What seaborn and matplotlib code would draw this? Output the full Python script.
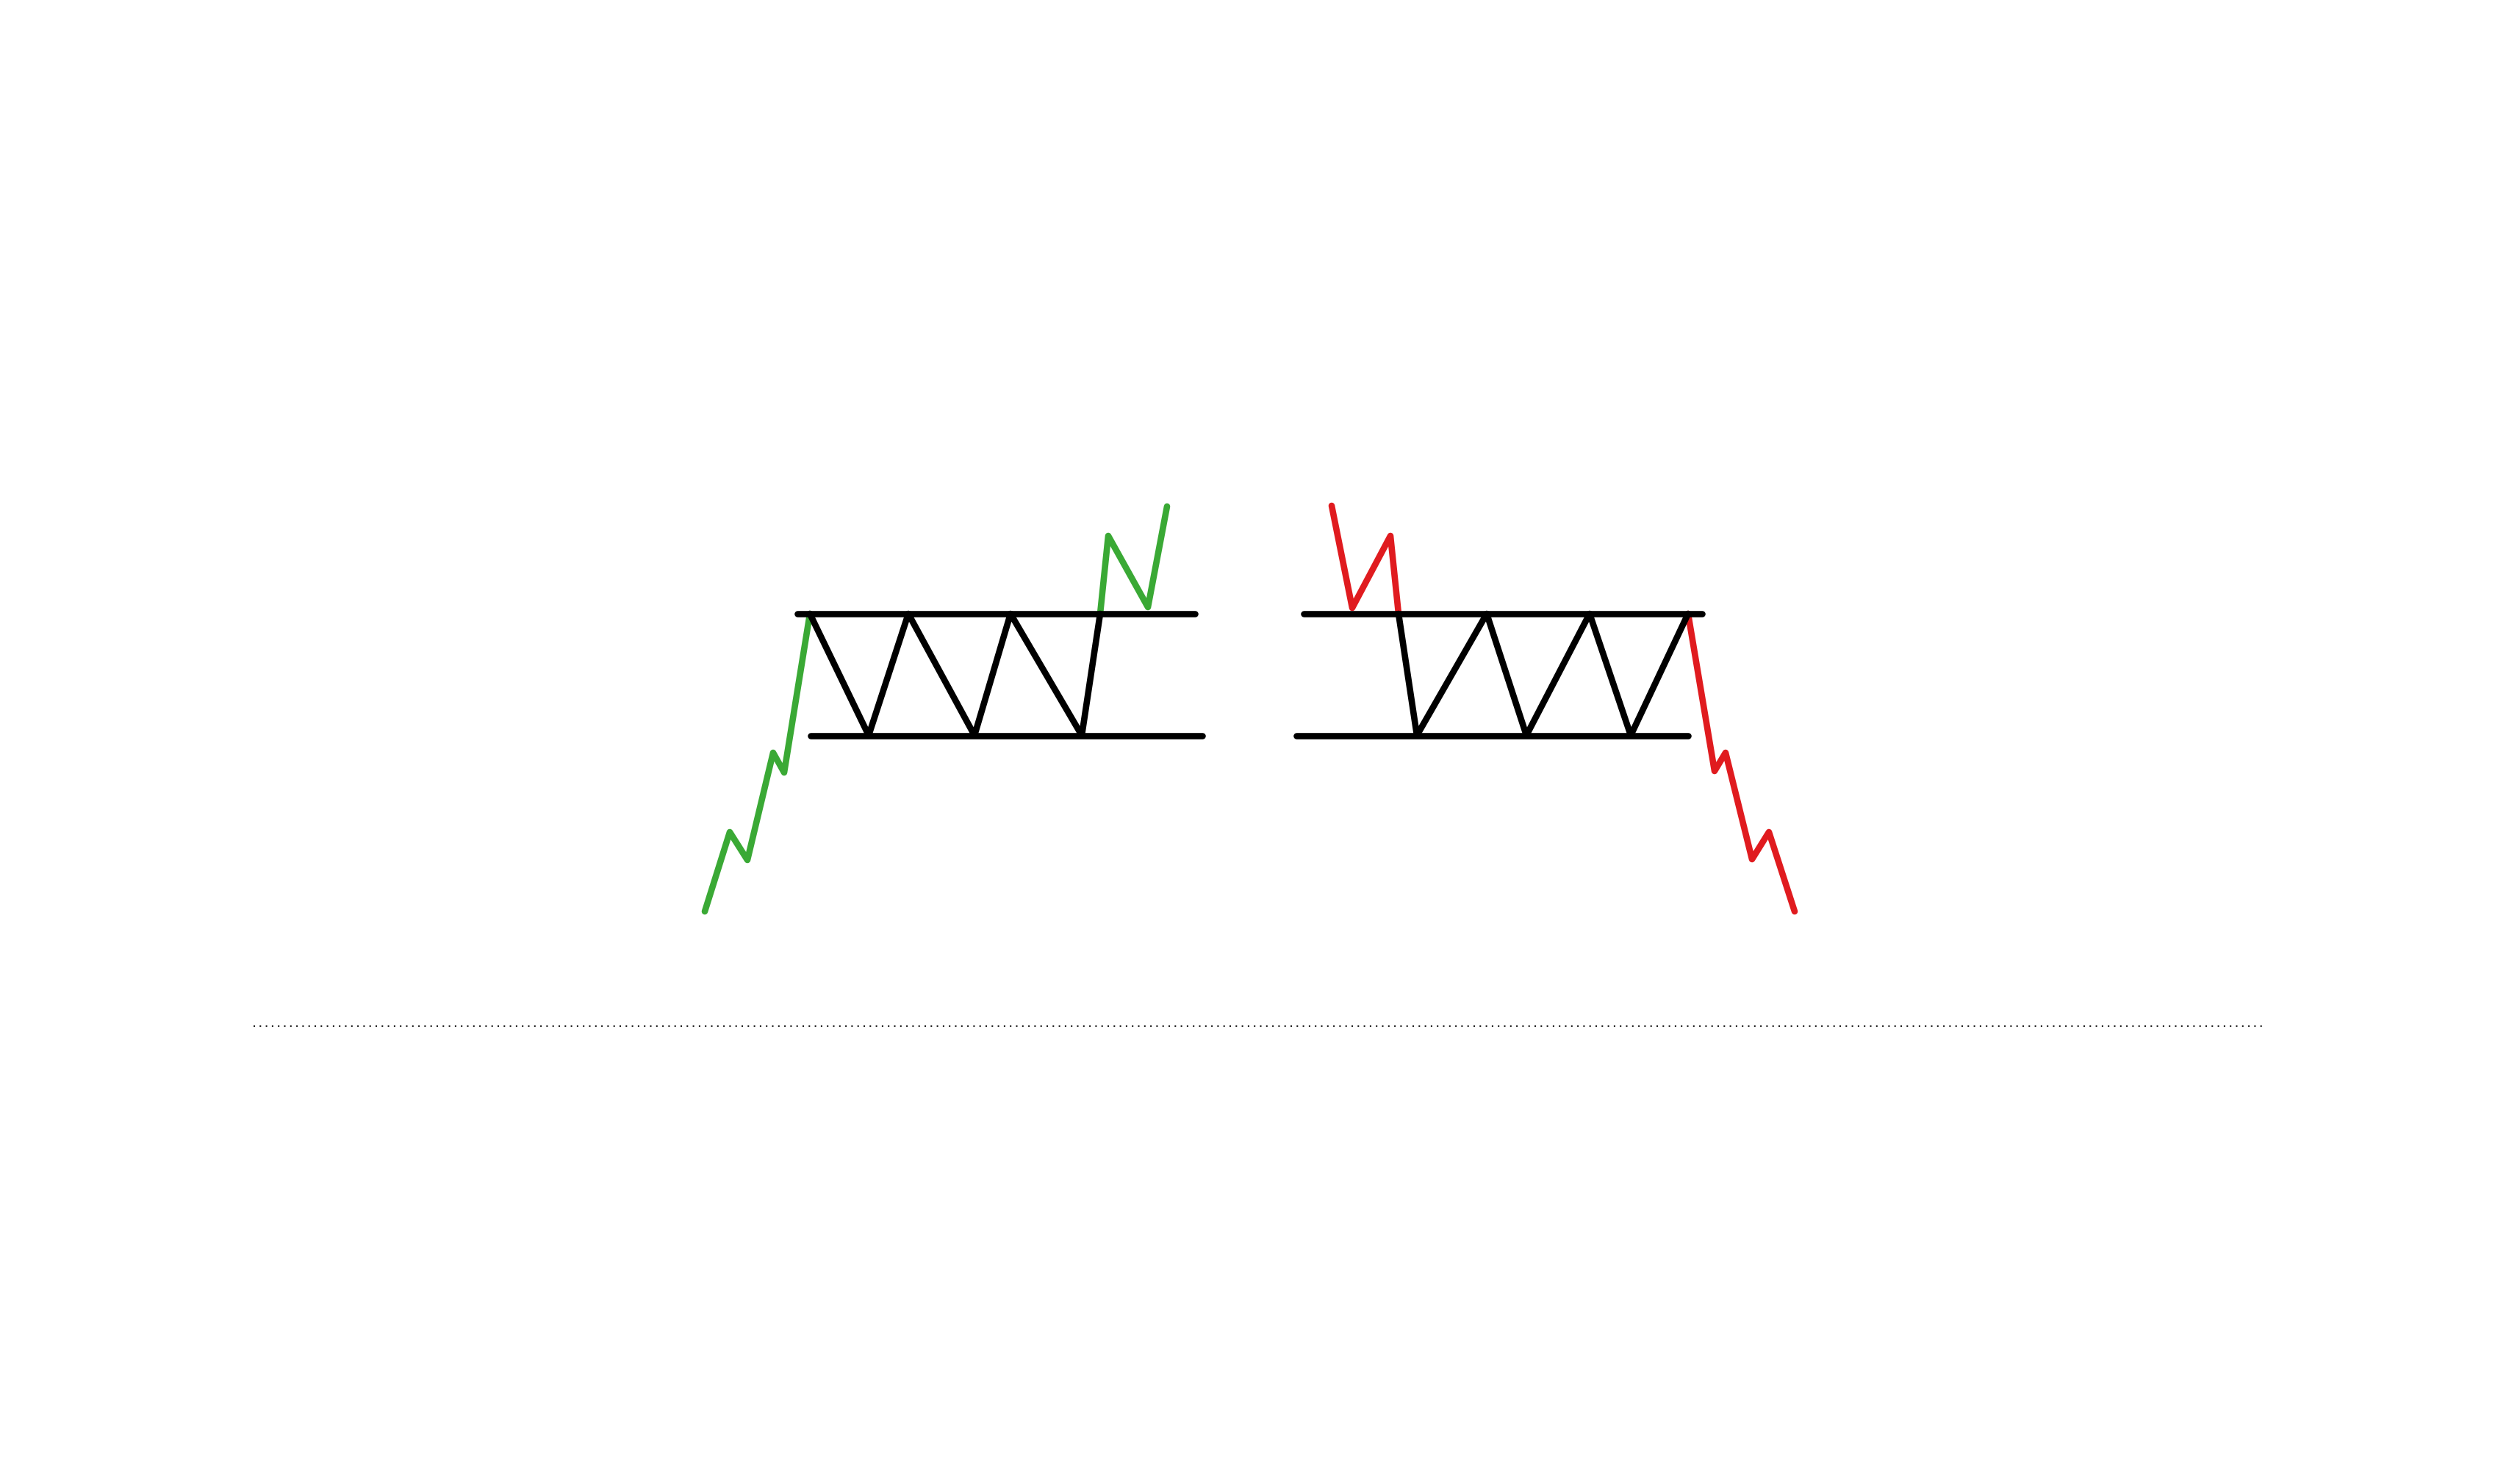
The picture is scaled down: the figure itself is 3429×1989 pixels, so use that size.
import matplotlib
matplotlib.use("Agg")
import matplotlib.pyplot as plt
import seaborn as sns
import pandas as pd

sns.set_theme(style="white")

# ---- data (x position, price level) ----
# Bullish rectangle (left)
bull_in_x = [95.9, 99.3, 101.7, 105.2, 106.7, 110.2]
bull_in_y = [74.9, 85.7, 81.9, 96.5, 93.8, 115.4]
bull_zig_x = [110.2, 118.2, 123.6, 132.6, 137.5, 147.2, 149.7]
bull_zig_y = [115.4, 98.85, 115.4, 98.85, 115.4, 98.85, 115.4]
bull_out_x = [149.7, 150.8, 156.2, 158.8]
bull_out_y = [115.4, 126.0, 116.3, 130.0]
bull_res_x = [108.5, 162.6]
bull_sup_x = [110.3, 163.6]

# Bearish rectangle (right)
bear_in_x = [181.2, 184.0, 189.2, 190.3]
bear_in_y = [130.1, 116.2, 126.0, 115.4]
bear_zig_x = [190.3, 192.8, 202.3, 207.7, 216.3, 221.9, 229.7]
bear_zig_y = [115.4, 98.85, 115.4, 98.85, 115.4, 98.85, 115.4]
bear_out_x = [229.7, 233.3, 234.8, 238.4, 240.7, 244.2]
bear_out_y = [115.4, 94.0, 96.5, 82.0, 85.7, 74.9]
bear_res_x = [177.4, 231.6]
bear_sup_x = [176.4, 229.7]

resistance = 115.4
support = 98.85

baseline_x = [34.5, 308.2]
baseline_y = 59.3

GREEN = "#3aa935"
RED = "#e01b1f"
BLACK = "#000000"
LW = 6.2

fig = plt.figure(figsize=(34.3, 19.9), dpi=100)
ax = fig.add_axes([0, 0, 1, 1])


def path(xs, ys, color, lw=LW, **kw):
    df = pd.DataFrame({"x": xs, "y": ys})
    sns.lineplot(data=df, x="x", y="y", sort=False, estimator=None, color=color,
                 linewidth=lw, ax=ax, solid_capstyle="round",
                 solid_joinstyle="round", **kw)


# dotted baseline
dfb = pd.DataFrame({"x": baseline_x, "y": [baseline_y] * 2})
sns.lineplot(data=dfb, x="x", y="y", sort=False, estimator=None, color="#1a1a1a",
             linewidth=1.44, ax=ax)
ax.lines[-1].set_dashes((1, 3.15))
ax.lines[-1].set_dash_capstyle("butt")

# coloured trends
path(bull_in_x, bull_in_y, GREEN)
path(bull_out_x, bull_out_y, GREEN)
path(bear_in_x, bear_in_y, RED)
path(bear_out_x, bear_out_y, RED)

# rectangle channels
path(bull_res_x, [resistance] * 2, BLACK)
path(bull_sup_x, [support] * 2, BLACK)
path(bull_zig_x, bull_zig_y, BLACK)
path(bear_res_x, [resistance] * 2, BLACK)
path(bear_sup_x, [support] * 2, BLACK)
path(bear_zig_x, bear_zig_y, BLACK)

ax.set_xlim(0, 343)
ax.set_ylim(0, 199)
ax.set_axis_off()
fig.patch.set_facecolor("white")
fig.savefig("out.png", dpi=100, facecolor="white")
